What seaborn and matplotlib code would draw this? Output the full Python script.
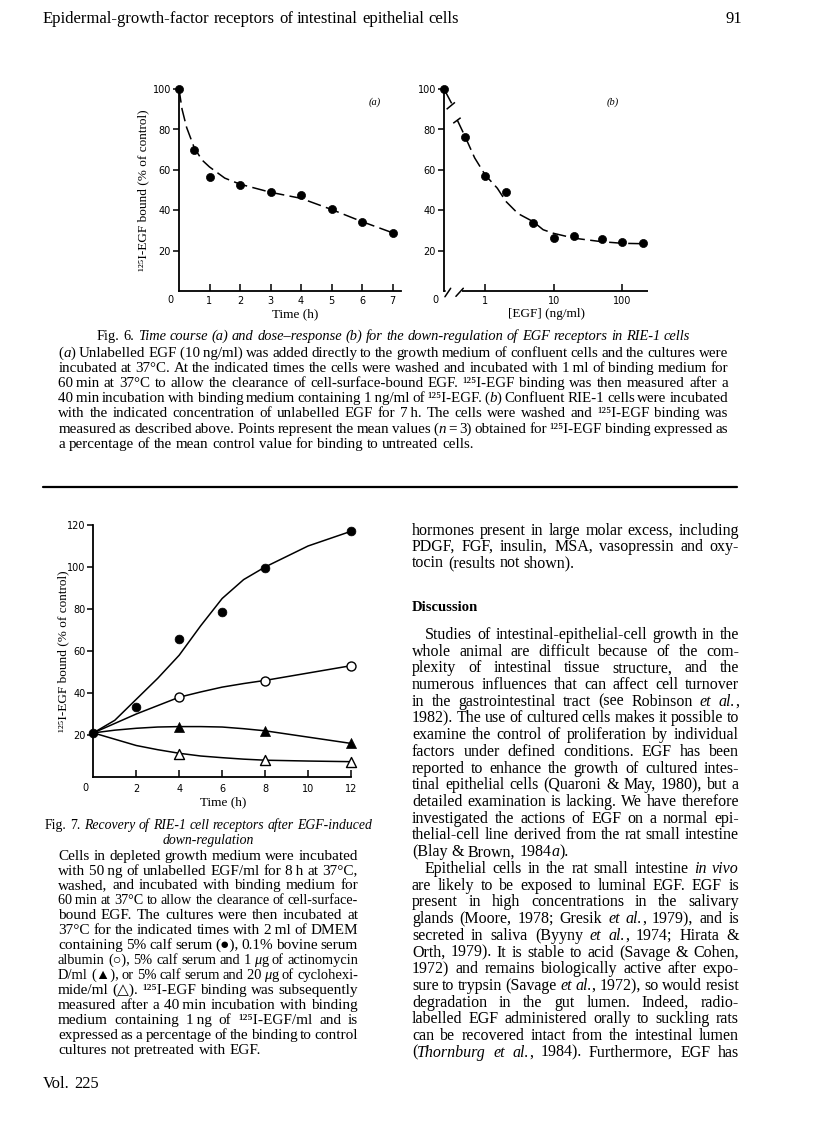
import matplotlib
matplotlib.use("Agg")
import matplotlib.pyplot as plt
from matplotlib.font_manager import FontProperties
from matplotlib.lines import Line2D
from matplotlib.ticker import NullLocator
import seaborn as sns

# ---------------- data (read from the page) ----------------
# Fig. 6(a): time course
time_6a = [0, 0.5, 1, 2, 3, 4, 5, 6, 7]
bound_6a = [100, 70, 56.5, 52.5, 49, 47.5, 40.5, 34.5, 29]
fit_6a_t = [0, 0.1, 0.25, 0.5, 0.75, 1, 1.5, 2, 3, 4, 5, 6, 7]
fit_6a_v = [100, 90, 81, 71, 65, 61.5, 56, 53, 49, 46, 40.5, 34.5, 29]
ticks_6a = [1, 2, 3, 4, 5, 6, 7]

# Fig. 6(b): dose-response (0 drawn at the axis origin)
egf_6b = [0, 0.5, 1, 2, 5, 10, 20, 50, 100, 200]
bound_6b = [100, 76.5, 57, 49, 34, 26.5, 27.5, 26, 24.5, 24]
fit_6b_x = [0.39, 0.5, 0.7, 1, 1.5, 2, 3, 5, 7, 10, 20, 50, 100, 200]
fit_6b_v = [84.7, 77, 66, 57.5, 51, 44.5, 38.5, 34.5, 30.5, 28.7, 26.3, 24.6, 23.8, 23.6]
brk_seg_x, brk_seg_y = [0.25, 0.323], [100, 92.9]
brk_t1_x, brk_t1_y = [0.273, 0.361], [90.0, 93.4]
brk_t2_x, brk_t2_y = [0.341, 0.4375], [83.1, 85.8]
ticks_6b = [1, 10, 100]
ticklabels_6b = ["1", "10", "100"]

# Fig. 7: recovery
time_7 = [0, 2, 4, 6, 8, 12]
serum = [21, 33.5, 65.5, 78.5, 99.5, 117]
time_7b = [4, 8, 12]
bsa = [38, 45.5, 53]
actino = [24, 22, 16]
cyclo = [11, 8, 7.3]
fit_7_t = [0, 1, 2, 3, 4, 5, 6, 7, 8, 10, 12]
fit_serum = [21, 27, 37, 47, 58, 72, 85, 94, 100, 110, 117]
fit_bsa = [21, 25.5, 30, 34, 38, 40.5, 42.8, 44.5, 46, 49.5, 53]
fit_actino = [21, 22.3, 23.2, 23.8, 24, 24, 23.8, 23, 22, 19, 16]
fit_cyclo = [21, 18, 15, 13, 11.3, 10, 9.2, 8.5, 8, 7.6, 7.3]
ticks_7x = [2, 4, 6, 8, 10, 12]
ticks_7y = [20, 40, 60, 80, 100, 120]
ticks_6y = [20, 40, 60, 80, 100]

YLABEL = "\u00b9\u00b2\u2075I-EGF bound (% of control)"

# ---------------- page text ----------------
header_left = "Epidermal-growth-factor receptors of intestinal epithelial cells"
header_right = "91"

fig6_title = "Fig. 6. {Time course (a) and dose\u2013response (b) for the down-regulation of EGF receptors in RIE-1 cells}"
fig6_caption = [
    "({a}) Unlabelled EGF (10\u2009ng/ml) was added directly to the growth medium of confluent cells and the cultures were",
    "incubated at 37°C. At the indicated times the cells were washed and incubated with 1\u2009ml of binding medium for",
    "60\u2009min at 37°C to allow the clearance of cell-surface-bound EGF. \u00b9\u00b2\u2075I-EGF binding was then measured after a",
    "40\u2009min incubation with binding medium containing 1\u2009ng/ml of \u00b9\u00b2\u2075I-EGF. ({b}) Confluent RIE-1 cells were incubated",
    "with the indicated concentration of unlabelled EGF for 7\u2009h. The cells were washed and \u00b9\u00b2\u2075I-EGF binding was",
    "measured as described above. Points represent the mean values ({n} = 3) obtained for \u00b9\u00b2\u2075I-EGF binding expressed as",
    "a percentage of the mean control value for binding to untreated cells.",
]

fig7_title1 = "Fig. 7. {Recovery of RIE-1 cell receptors after EGF-induced}"
fig7_title2 = "{down-regulation}"
fig7_caption = [
    "Cells in depleted growth medium were incubated",
    "with 50\u2009ng of unlabelled EGF/ml for 8\u2009h at 37°C,",
    "washed, and incubated with binding medium for",
    "60\u2009min at 37°C to allow the clearance of cell-surface-",
    "bound EGF. The cultures were then incubated at",
    "37°C for the indicated times with 2\u2009ml of DMEM",
    "containing 5% calf serum (\u25cf), 0.1% bovine serum",
    "albumin (\u25cb), 5% calf serum and 1\u2009{\u03bc}g of actinomycin",
    "D/ml (\u25b2), or 5% calf serum and 20\u2009{\u03bc}g of cyclohexi-",
    "mide/ml (\u25b3). \u00b9\u00b2\u2075I-EGF binding was subsequently",
    "measured after a 40\u2009min incubation with binding",
    "medium containing 1\u2009ng of \u00b9\u00b2\u2075I-EGF/ml and is",
    "expressed as a percentage of the binding to control",
    "cultures not pretreated with EGF.",
]
footer = "Vol. 225"

body_top = [
    "hormones present in large molar excess, including",
    "PDGF, FGF, insulin, MSA, vasopressin and oxy-",
    "tocin (results not shown).",
]
body_heading = "Discussion"
body_main = [
    "Studies of intestinal-epithelial-cell growth in the",
    "whole animal are difficult because of the com-",
    "plexity of intestinal tissue structure, and the",
    "numerous influences that can affect cell turnover",
    "in the gastrointestinal tract (see Robinson {et al.},",
    "1982). The use of cultured cells makes it possible to",
    "examine the control of proliferation by individual",
    "factors under defined conditions. EGF has been",
    "reported to enhance the growth of cultured intes-",
    "tinal epithelial cells (Quaroni & May, 1980), but a",
    "detailed examination is lacking. We have therefore",
    "investigated the actions of EGF on a normal epi-",
    "thelial-cell line derived from the rat small intestine",
    "(Blay & Brown, 1984{a}).",
    "Epithelial cells in the rat small intestine {in vivo}",
    "are likely to be exposed to luminal EGF. EGF is",
    "present in high concentrations in the salivary",
    "glands (Moore, 1978; Gresik {et al.}, 1979), and is",
    "secreted in saliva (Byyny {et al.}, 1974; Hirata &",
    "Orth, 1979). It is stable to acid (Savage & Cohen,",
    "1972) and remains biologically active after expo-",
    "sure to trypsin (Savage {et al.}, 1972), so would resist",
    "degradation in the gut lumen. Indeed, radio-",
    "labelled EGF administered orally to suckling rats",
    "can be recovered intact from the intestinal lumen",
    "({Thornburg et al.}, 1984). Furthermore, EGF has",
]
para_last = {13}
para_first = {0, 14}

# ---------------- figure setup ----------------
W, H, DPI = 816, 1136, 100
sns.set_style("ticks")
plt.rcParams['font.family'] = ['DejaVu Sans']
plt.rcParams['text.color'] = 'black'
plt.rcParams['axes.edgecolor'] = 'black'
plt.rcParams['xtick.color'] = 'black'
plt.rcParams['ytick.color'] = 'black'
plt.rcParams['axes.labelcolor'] = 'black'

fig = plt.figure(figsize=(W / DPI, H / DPI), dpi=DPI, facecolor='white')
renderer = fig.canvas.get_renderer()
SERIF = ['Liberation Serif', 'DejaVu Sans']


def fprop(size, italic=False, weight='normal'):
    return FontProperties(family=SERIF, size=size,
                          style='italic' if italic else 'normal', weight=weight)


def twidth(s, prop):
    w, h, d = renderer.get_text_width_height_descent(s, prop, ismath=False)
    return w


def parse(markup):
    chars, it = [], False
    for c in markup:
        if c == '{':
            it = True
            continue
        if c == '}':
            it = False
            continue
        chars.append((c, it))
    words, cur = [], []
    for c, i in chars:
        if c == ' ':
            if cur:
                words.append(cur)
                cur = []
        else:
            cur.append((c, i))
    if cur:
        words.append(cur)
    out = []
    for w in words:
        segs = []
        for c, i in w:
            if segs and segs[-1][1] == i:
                segs[-1][0] += c
            else:
                segs.append([c, i])
        out.append(segs)
    return out


def natural_width(markup, size, weight='normal'):
    words = parse(markup)
    total = sum(twidth(s, fprop(size, it, weight)) for w in words for s, it in w)
    sp = twidth('a a', fprop(size, False, weight)) - twidth('aa', fprop(size, False, weight))
    return total + (len(words) - 1) * sp


def fit_size(markup, width, weight='normal'):
    return 10.0 * width / natural_width(markup, 10.0, weight)


def text_line(x0, x1, yc, markup, size, justify=True, align='left', weight='normal'):
    words = parse(markup)
    n = len(words)
    target = x1 - x0
    for _ in range(4):
        em = size * DPI / 72
        ws = [[twidth(s, fprop(size, it, weight)) for s, it in w] for w in words]
        total = sum(sum(w) for w in ws)
        sp = twidth('a a', fprop(size, False, weight)) - twidth('aa', fprop(size, False, weight))
        if justify and n > 1:
            gap = (target - total) / (n - 1)
            if gap < 0.17 * em:
                size = size * target / (total + (n - 1) * 0.2 * em) * 0.995
                continue
        else:
            gap = sp
        break
    em = size * DPI / 72
    line_w = total + (n - 1) * gap
    if align == 'center':
        x = (x0 + x1) / 2 - line_w / 2
    elif align == 'right':
        x = x1 - line_w
    else:
        x = x0
    base = yc + 0.3 * em
    for w, wsz in zip(words, ws):
        for (s, it), sw in zip(w, wsz):
            fig.text(x / W, 1 - base / H, s, fontproperties=fprop(size, it, weight),
                     ha='left', va='baseline', color='black')
            x += sw
        x += gap


def add_axes_px(l, t, r, b):
    return fig.add_axes([l / W, 1 - b / H, (r - l) / W, (b - t) / H])


def style_axes(ax, xpad, ypad):
    sns.despine(ax=ax)
    ax.set_facecolor('none')
    for s in ['left', 'bottom']:
        ax.spines[s].set_linewidth(1.3)
        ax.spines[s].set_color('black')
    ax.tick_params(axis='x', direction='in', length=5, width=1.1, pad=xpad, labelsize=7)
    ax.tick_params(axis='y', direction='out', length=4.5, width=1.1, pad=ypad, labelsize=7)
    ax.xaxis.set_minor_locator(NullLocator())
    ax.yaxis.set_minor_locator(NullLocator())


LABEL_FP = FontProperties(family=['Liberation Serif', 'DejaVu Serif'], size=9.5)
LW = 1.1
DASH = (0, (9, 3.5))

# ---------------- Fig. 6(a) ----------------
ax_a = add_axes_px(179, 89, 400.5, 291.5)
ax_a.set_xlim(0, 7.26)
ax_a.set_ylim(0, 100)
sns.lineplot(x=fit_6a_t, y=fit_6a_v, ax=ax_a, color='black', lw=LW, linestyle=DASH,
             sort=False, estimator=None, errorbar=None)
sns.scatterplot(x=time_6a, y=bound_6a, ax=ax_a, color='black', edgecolor='black',
                s=34, linewidth=0.5, marker='o', clip_on=False, zorder=4, legend=False)
ax_a.set_xticks(ticks_6a)
ax_a.set_yticks(ticks_6y)
style_axes(ax_a, 3.2, 1.2)
ax_a.set_xlabel("Time (h)", fontproperties=LABEL_FP)
ax_a.xaxis.set_label_coords((295 - 179) / 221.5, (291.5 - 314) / 202.5)
ax_a.xaxis.label.set_va('center')
ax_a.set_ylabel(YLABEL, fontproperties=LABEL_FP)
ax_a.yaxis.set_label_coords((143.3 - 179) / 221.5, 0.5)
ax_a.yaxis.label.set_va('center')
fig.text(170 / W, 1 - 300 / H, "0", ha='center', va='center', fontsize=7)
fig.text(375 / W, 1 - 102 / H, "(a)", ha='center', va='center',
         fontproperties=FontProperties(family=SERIF, size=7.5, style='italic'))

# ---------------- Fig. 6(b) ----------------
ax_b = add_axes_px(444, 89, 648, 291.5)
ax_b.set_xscale('log')
ax_b.set_xlim(0.25, 237)
ax_b.set_ylim(0, 100)
pos_6b = [ax_b.get_xlim()[0] if v == 0 else v for v in egf_6b]
sns.lineplot(x=fit_6b_x, y=fit_6b_v, ax=ax_b, color='black', lw=LW, linestyle=DASH,
             sort=False, estimator=None, errorbar=None)
for bx, by in [(brk_seg_x, brk_seg_y), (brk_t1_x, brk_t1_y), (brk_t2_x, brk_t2_y)]:
    ax_b.plot(bx, by, color='black', lw=LW, solid_capstyle='butt')
sns.scatterplot(x=pos_6b, y=bound_6b, ax=ax_b, color='black', edgecolor='black',
                s=34, linewidth=0.5, marker='o', clip_on=False, zorder=4, legend=False)
ax_b.set_xticks(ticks_6b)
ax_b.set_xticklabels(ticklabels_6b)
ax_b.set_yticks(ticks_6y)
style_axes(ax_b, 3.2, 1.2)
# broken x-axis near the origin
ax_b.spines['bottom'].set_visible(False)
ax_b.plot([0.25, 0.262], [0, 0], color='black', lw=1.3, clip_on=False)
ax_b.plot([0.455, 237], [0, 0], color='black', lw=1.3, clip_on=False, solid_capstyle='butt')
ax_b.plot([0.258, 0.313], [-2.6, 1.6], color='black', lw=1.1, clip_on=False)
ax_b.plot([0.373, 0.478], [-2.4, 1.6], color='black', lw=1.1, clip_on=False)
ax_b.set_xlabel("[EGF] (ng/ml)", fontproperties=LABEL_FP)
ax_b.xaxis.set_label_coords((547 - 444) / 204, (291.5 - 314) / 202.5)
ax_b.xaxis.label.set_va('center')
fig.text(435 / W, 1 - 300 / H, "0", ha='center', va='center', fontsize=7)
fig.text(613 / W, 1 - 102 / H, "(b)", ha='center', va='center',
         fontproperties=FontProperties(family=SERIF, size=7.5, style='italic'))

# ---------------- Fig. 7 ----------------
ax7 = add_axes_px(93.3, 525, 351, 777)
ax7.set_xlim(0, 12)
ax7.set_ylim(0, 120)
for fit in [fit_serum, fit_bsa, fit_actino, fit_cyclo]:
    sns.lineplot(x=fit_7_t, y=fit, ax=ax7, color='black', lw=LW,
                 sort=False, estimator=None, errorbar=None)
sns.scatterplot(x=time_7b, y=bsa, ax=ax7, color='white', edgecolor='black',
                s=42, linewidth=1.0, marker='o', clip_on=False, zorder=4, legend=False)
sns.scatterplot(x=time_7b, y=actino, ax=ax7, color='black', edgecolor='black',
                s=52, linewidth=0.5, marker='^', clip_on=False, zorder=4, legend=False)
sns.scatterplot(x=time_7b, y=cyclo, ax=ax7, color='white', edgecolor='black',
                s=52, linewidth=1.0, marker='^', clip_on=False, zorder=4, legend=False)
sns.scatterplot(x=time_7, y=serum, ax=ax7, color='black', edgecolor='black',
                s=40, linewidth=0.5, marker='o', clip_on=False, zorder=5, legend=False)
ax7.set_xticks(ticks_7x)
ax7.set_yticks(ticks_7y)
style_axes(ax7, 5.0, 1.0)
ax7.set_xlabel("Time (h)", fontproperties=LABEL_FP)
ax7.xaxis.set_label_coords((223 - 93.3) / 257.7, (777 - 802) / 252)
ax7.xaxis.label.set_va('center')
ax7.set_ylabel(YLABEL, fontproperties=LABEL_FP)
ax7.yaxis.set_label_coords((63.3 - 93.3) / 257.7, 0.5)
ax7.yaxis.label.set_va('center')
fig.text(85 / W, 1 - 788 / H, "0", ha='center', va='center', fontsize=7)

# ---------------- page text ----------------
hs = fit_size(header_left, 415)
text_line(43, 458, 18.5, header_left, hs, justify=False)
text_line(600, 742, 18.5, header_right, hs, justify=False, align='right')

t6 = fit_size(fig6_title, 690 - 96.7)
text_line(96.7, 700, 336, fig6_title, t6, justify=False)
c6 = fit_size(fig6_caption[-1], 472.7 - 58.3)
for i, ln in enumerate(fig6_caption):
    last = i == len(fig6_caption) - 1
    text_line(58.3, 728, 352.3 + 15.15 * i, ln, c6, justify=not last)

fig.add_artist(Line2D([43 / W, 737 / W], [1 - 486.7 / H] * 2, lw=1.6, color='black'))

t7 = fit_size(fig7_title1, 372 - 45)
text_line(45, 372, 825, fig7_title1, t7, justify=False, align='center')
text_line(45, 372, 840, fig7_title2, t7, justify=False, align='center')
c7 = fit_size(fig7_caption[-1], 260 - 58)
for i, ln in enumerate(fig7_caption):
    last = i == len(fig7_caption) - 1
    text_line(58, 358, 855 + 14.95 * i, ln, c7, justify=not last)
text_line(43, 200, 1083, footer, fit_size(footer, 98 - 43), justify=False)

bs = 0.5 * (fit_size(body_top[-1], 578 - 412) + fit_size(body_main[13], 567 - 412))
for i, ln in enumerate(body_top):
    last = i == len(body_top) - 1
    text_line(412, 739, 530 + 16.1 * i, ln, bs, justify=not last)
text_line(412, 739, 607, body_heading, fit_size(body_heading, 66, 'bold'), justify=False, weight='bold')
for i, ln in enumerate(body_main):
    x0 = 425 if i in para_first else 412
    last = i in para_last
    text_line(x0, 739, 634 + 16.72 * i, ln, bs, justify=not last)

fig.savefig("out.png", dpi=DPI, facecolor='white')
